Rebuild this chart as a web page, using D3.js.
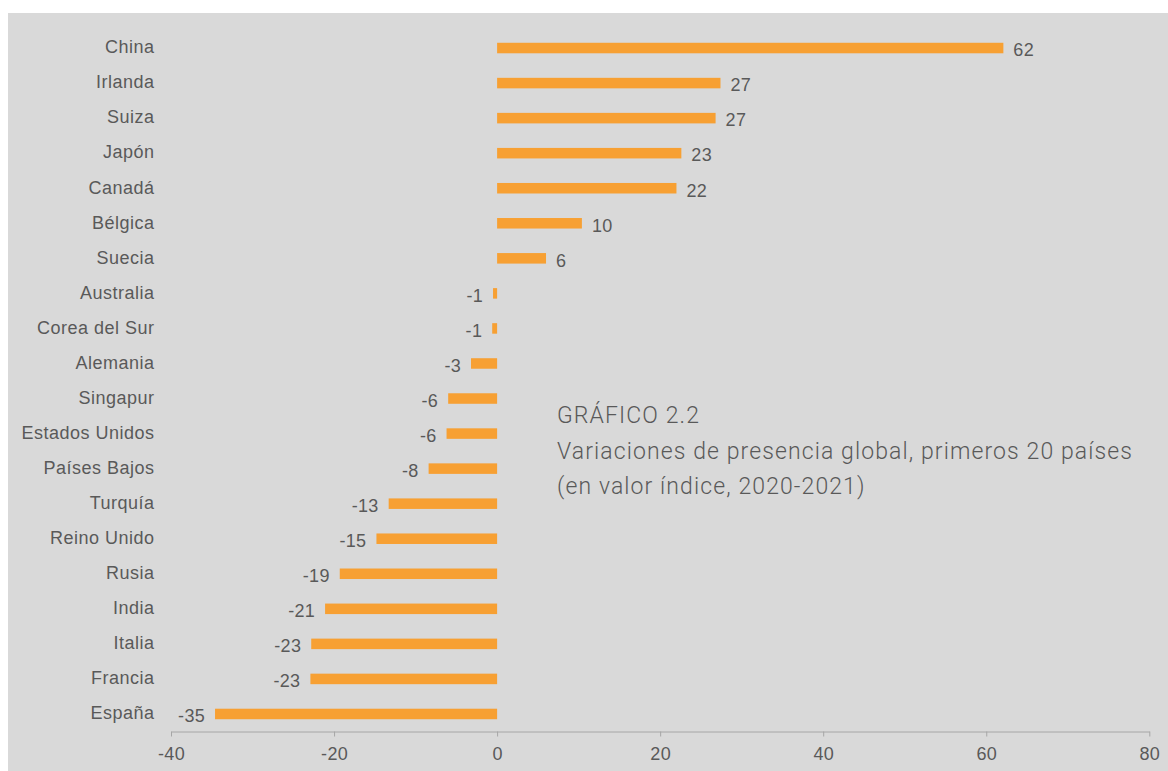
<!DOCTYPE html>
<html><head><meta charset="utf-8">
<script src="https://cdn.jsdelivr.net/npm/d3@7"></script>
<style>
html,body{margin:0;padding:0;background:#fff;}
svg{display:block;}
text{font-family:"Liberation Sans","Helvetica Neue",Arial,sans-serif;fill:#595959;}
</style></head>
<body>
<svg id="c" width="1168" height="771"></svg>
<script>
const countries = ["China","Irlanda","Suiza","Japón","Canadá","Bélgica","Suecia","Australia","Corea del Sur","Alemania","Singapur","Estados Unidos","Países Bajos","Turquía","Reino Unido","Rusia","India","Italia","Francia","España"];
const values = [62.1,27.4,26.8,22.6,22.0,10.4,6.0,-0.5,-0.6,-3.2,-6.0,-6.2,-8.4,-13.3,-14.8,-19.3,-21.1,-22.8,-22.9,-34.6];
const valueLabels = ["62","27","27","23","22","10","6","-1","-1","-3","-6","-6","-8","-13","-15","-19","-21","-23","-23","-35"];
const xTicks = [-40,-20,0,20,40,60,80];
const titleLines = ["GRÁFICO 2.2","Variaciones de presencia global, primeros 20 países","(en valor índice, 2020-2021)"];

const svg = d3.select("#c");
svg.append("rect").attr("x",8).attr("y",13).attr("width",1160).attr("height",758).attr("fill","#d9d9d9");

const x = d3.scaleLinear().domain([-40,80]).range([171,1149.3]);
const y = d3.scaleBand().domain(countries).range([30.5,731.5]).paddingInner(0.7).paddingOuter(0.35);

const data = countries.map((c,i)=>({c, v:values[i], l:valueLabels[i]}));

svg.append("g").selectAll("rect").data(data).join("rect")
  .attr("x", d=>x(Math.min(0,d.v)))
  .attr("width", d=>Math.abs(x(d.v)-x(0)))
  .attr("y", d=>y(d.c))
  .attr("height", y.bandwidth())
  .attr("fill","#f7a033");

// category labels
svg.append("g").selectAll("text").data(data).join("text")
  .attr("x",154.5)
  .attr("y", d=>y(d.c)+y.bandwidth()/2 - 1)
  .attr("dy","0.35em")
  .attr("text-anchor","end")
  .attr("font-size",18)
  .style("letter-spacing","0.5px")
  .text(d=>d.c);

// value labels
svg.append("g").selectAll("text").data(data).join("text")
  .attr("x", d=> d.v>=0 ? x(d.v)+10 : x(d.v)-10)
  .attr("y", d=>y(d.c)+y.bandwidth()/2+2)
  .attr("dy","0.35em")
  .attr("text-anchor", d=> d.v>=0 ? "start":"end")
  .attr("font-size",18)
  .style("letter-spacing","0.3px")
  .text(d=>d.l);

// x axis
const axis = d3.axisBottom(x).tickValues(xTicks).tickFormat(d=>String(d)).tickSize(5).tickPadding(11).tickSizeOuter(0);
const g = svg.append("g").attr("transform","translate(0,731.5)").call(axis);
g.select(".domain").attr("stroke","#a6a6a6");
g.selectAll(".tick line").attr("stroke","#a6a6a6");
g.selectAll(".tick text").attr("font-size",18).attr("fill","#595959")
  .style("font-family",'"Liberation Sans",Arial,sans-serif').style("letter-spacing","0.3px");

// title block
svg.append("g").selectAll("text").data(titleLines).join("text")
  .attr("x",557)
  .attr("y",(d,i)=>423+i*35.5)
  .attr("font-size",23)
  .style("font-family",'Roboto,"Liberation Sans",Arial,sans-serif')
  .style("font-weight",300)
  .style("letter-spacing","1.1px")
  .text(d=>d);
</script>
</body></html>
